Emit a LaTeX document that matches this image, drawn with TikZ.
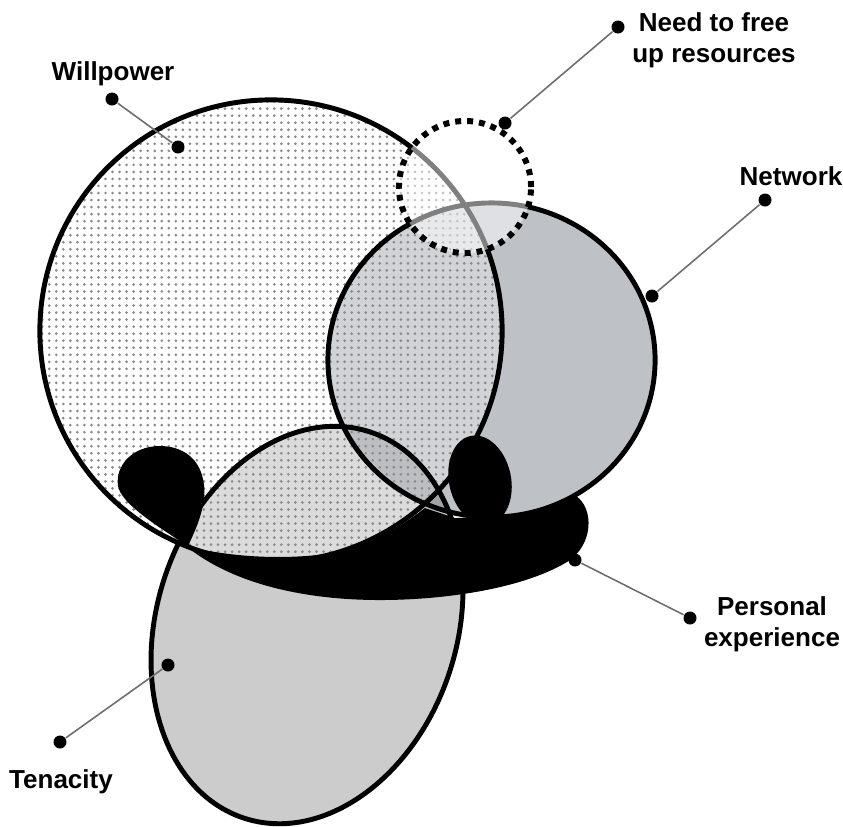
\documentclass[tikz,border=0pt]{standalone}
\usepackage{fontspec}
\setmainfont{Liberation Sans}
\usetikzlibrary{patterns.meta}
\definecolor{netgray}{HTML}{BEC2C7}
\definecolor{tengray}{HTML}{CCCCCC}
\definecolor{tripgray}{HTML}{A0A4A9}
\definecolor{dotgray}{HTML}{8A8A8A}
\definecolor{leadgray}{HTML}{6E6E6E}
\begin{document}
\begin{tikzpicture}[x=0.01cm,y=0.01cm,
  outline/.style={line width=1.4pt},
  lbl/.style={font=\fontsize{7.4}{8.8}\selectfont\bfseries, align=center, inner sep=0pt},
  pin/.style={circle, fill=black, inner sep=0pt, minimum size=0.13cm},
  leader/.style={draw=leadgray, line width=0.45pt},
  wcirc/.style={radius=2.31cm},
  ncirc/.style={x radius=1.635cm, y radius=1.57cm},
  tcirc/.style={x radius=1.5cm, y radius=2.03cm, rotate=-18}]
\useasboundingbox (0,0) rectangle (843,-826);
\coordinate (W) at (271,-331);
\coordinate (N) at (491.5,-360);
\coordinate (T) at (307,-625);
\coordinate (D) at (465,-187);
% fills
\fill[netgray] (N) circle [ncirc];
\fill[tengray] (T) circle [tcirc];
\begin{scope}
  \clip (N) circle [ncirc];
  \fill[tripgray] (T) circle [tcirc];
\end{scope}
\fill[white, fill opacity=0.3] (W) circle [wcirc];
\fill[pattern={Dots[distance=2pt, radius=0.42pt]}, pattern color=dotgray] (W) circle [wcirc];
% outlines
\draw[outline] (W) circle [wcirc];
\draw[outline] (N) circle [ncirc];
\draw[outline] (T) circle [tcirc];
% personal experience (black shape)
\fill[black] (188,-546) .. controls (198,-525) and (206,-505) .. (204,-485)
  .. controls (201,-458) and (182,-446) .. (160,-446)
  .. controls (132,-446) and (115,-466) .. (118,-486)
  .. controls (121,-502) and (150,-522) .. (188,-546) -- cycle;
\fill[black] (186,-546) .. controls (225,-556) and (280,-561) .. (333,-553)
  .. controls (370,-547) and (400,-527) .. (425,-508) -- (455,-518) -- (510,-516)
  .. controls (540,-511) and (560,-503) .. (576,-496)
  .. controls (594,-508) and (594,-545) .. (567,-562)
  .. controls (520,-590) and (440,-600) .. (380,-600)
  .. controls (300,-600) and (230,-582) .. (186,-546) -- cycle;
\fill[black] (480,-480) circle [x radius=0.31cm, y radius=0.45cm, rotate=12];
% need to free up resources
\fill[white, fill opacity=0.5] (D) circle [radius=0.66cm];
\draw[line width=1.7pt, dash pattern=on 1.7pt off 1.7pt] (D) circle [radius=0.66cm];
% labels and leaders
\node[lbl] (lw) at (113,-74) {Willpower};
\node[pin] (pw1) at (112,-99) {};
\node[pin] (pw2) at (178,-147) {};
\draw[leader] (pw1) -- (pw2);
\node[lbl] (ln) at (714,-40) {Need to free\\up resources};
\node[pin] (pn1) at (618,-27) {};
\node[pin] (pn2) at (505,-123) {};
\draw[leader] (pn1) -- (pn2);
\node[lbl] (lk) at (791,-176) {Network};
\node[pin] (pk1) at (765,-200) {};
\node[pin] (pk2) at (652,-296) {};
\draw[leader] (pk1) -- (pk2);
\node[lbl] (lp) at (772,-624) {Personal\\experience};
\node[pin] (pp1) at (575,-560) {};
\node[pin] (pp2) at (690,-618) {};
\draw[leader] (pp1) -- (pp2);
\node[lbl] (lt) at (61,-782) {Tenacity};
\node[pin] (pt1) at (168,-665) {};
\node[pin] (pt2) at (60,-742) {};
\draw[leader] (pt1) -- (pt2);
\end{tikzpicture}
\end{document}
